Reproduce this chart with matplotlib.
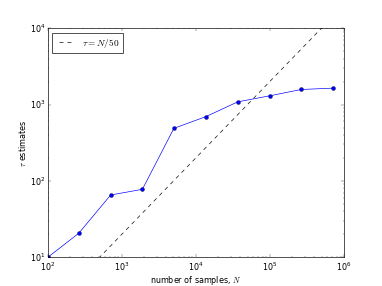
import numpy as np
import matplotlib
matplotlib.use("Agg")
import matplotlib.pyplot as plt

plt.style.use("classic")

# 样本数 N 与 tau 估计值
n_samples = [100, 263, 708, 1900, 5060, 13700, 36900, 99300, 266700, 716000]
tau_est = [10, 20.7, 65.5, 77.7, 488, 695, 1085, 1300, 1575, 1640]

fig = plt.figure(figsize=(8, 6), dpi=47.75)
ax = fig.add_subplot(111)

ax.loglog(n_samples, tau_est, "o-")
N_ref = np.array([1e2, 1e6])
ax.plot(N_ref, N_ref / 50.0, "--k", label=r"$\tau = N/50$")

ax.set_xlim(1e2, 1e6)
ax.set_ylim(1e1, 1e4)
ax.set_xlabel("number of samples, $N$", labelpad=1)
ax.set_ylabel(r"$\tau$ estimates", labelpad=3)
ax.legend(loc="upper left", fontsize=14)

fig.savefig("out.png", dpi=47.75)
